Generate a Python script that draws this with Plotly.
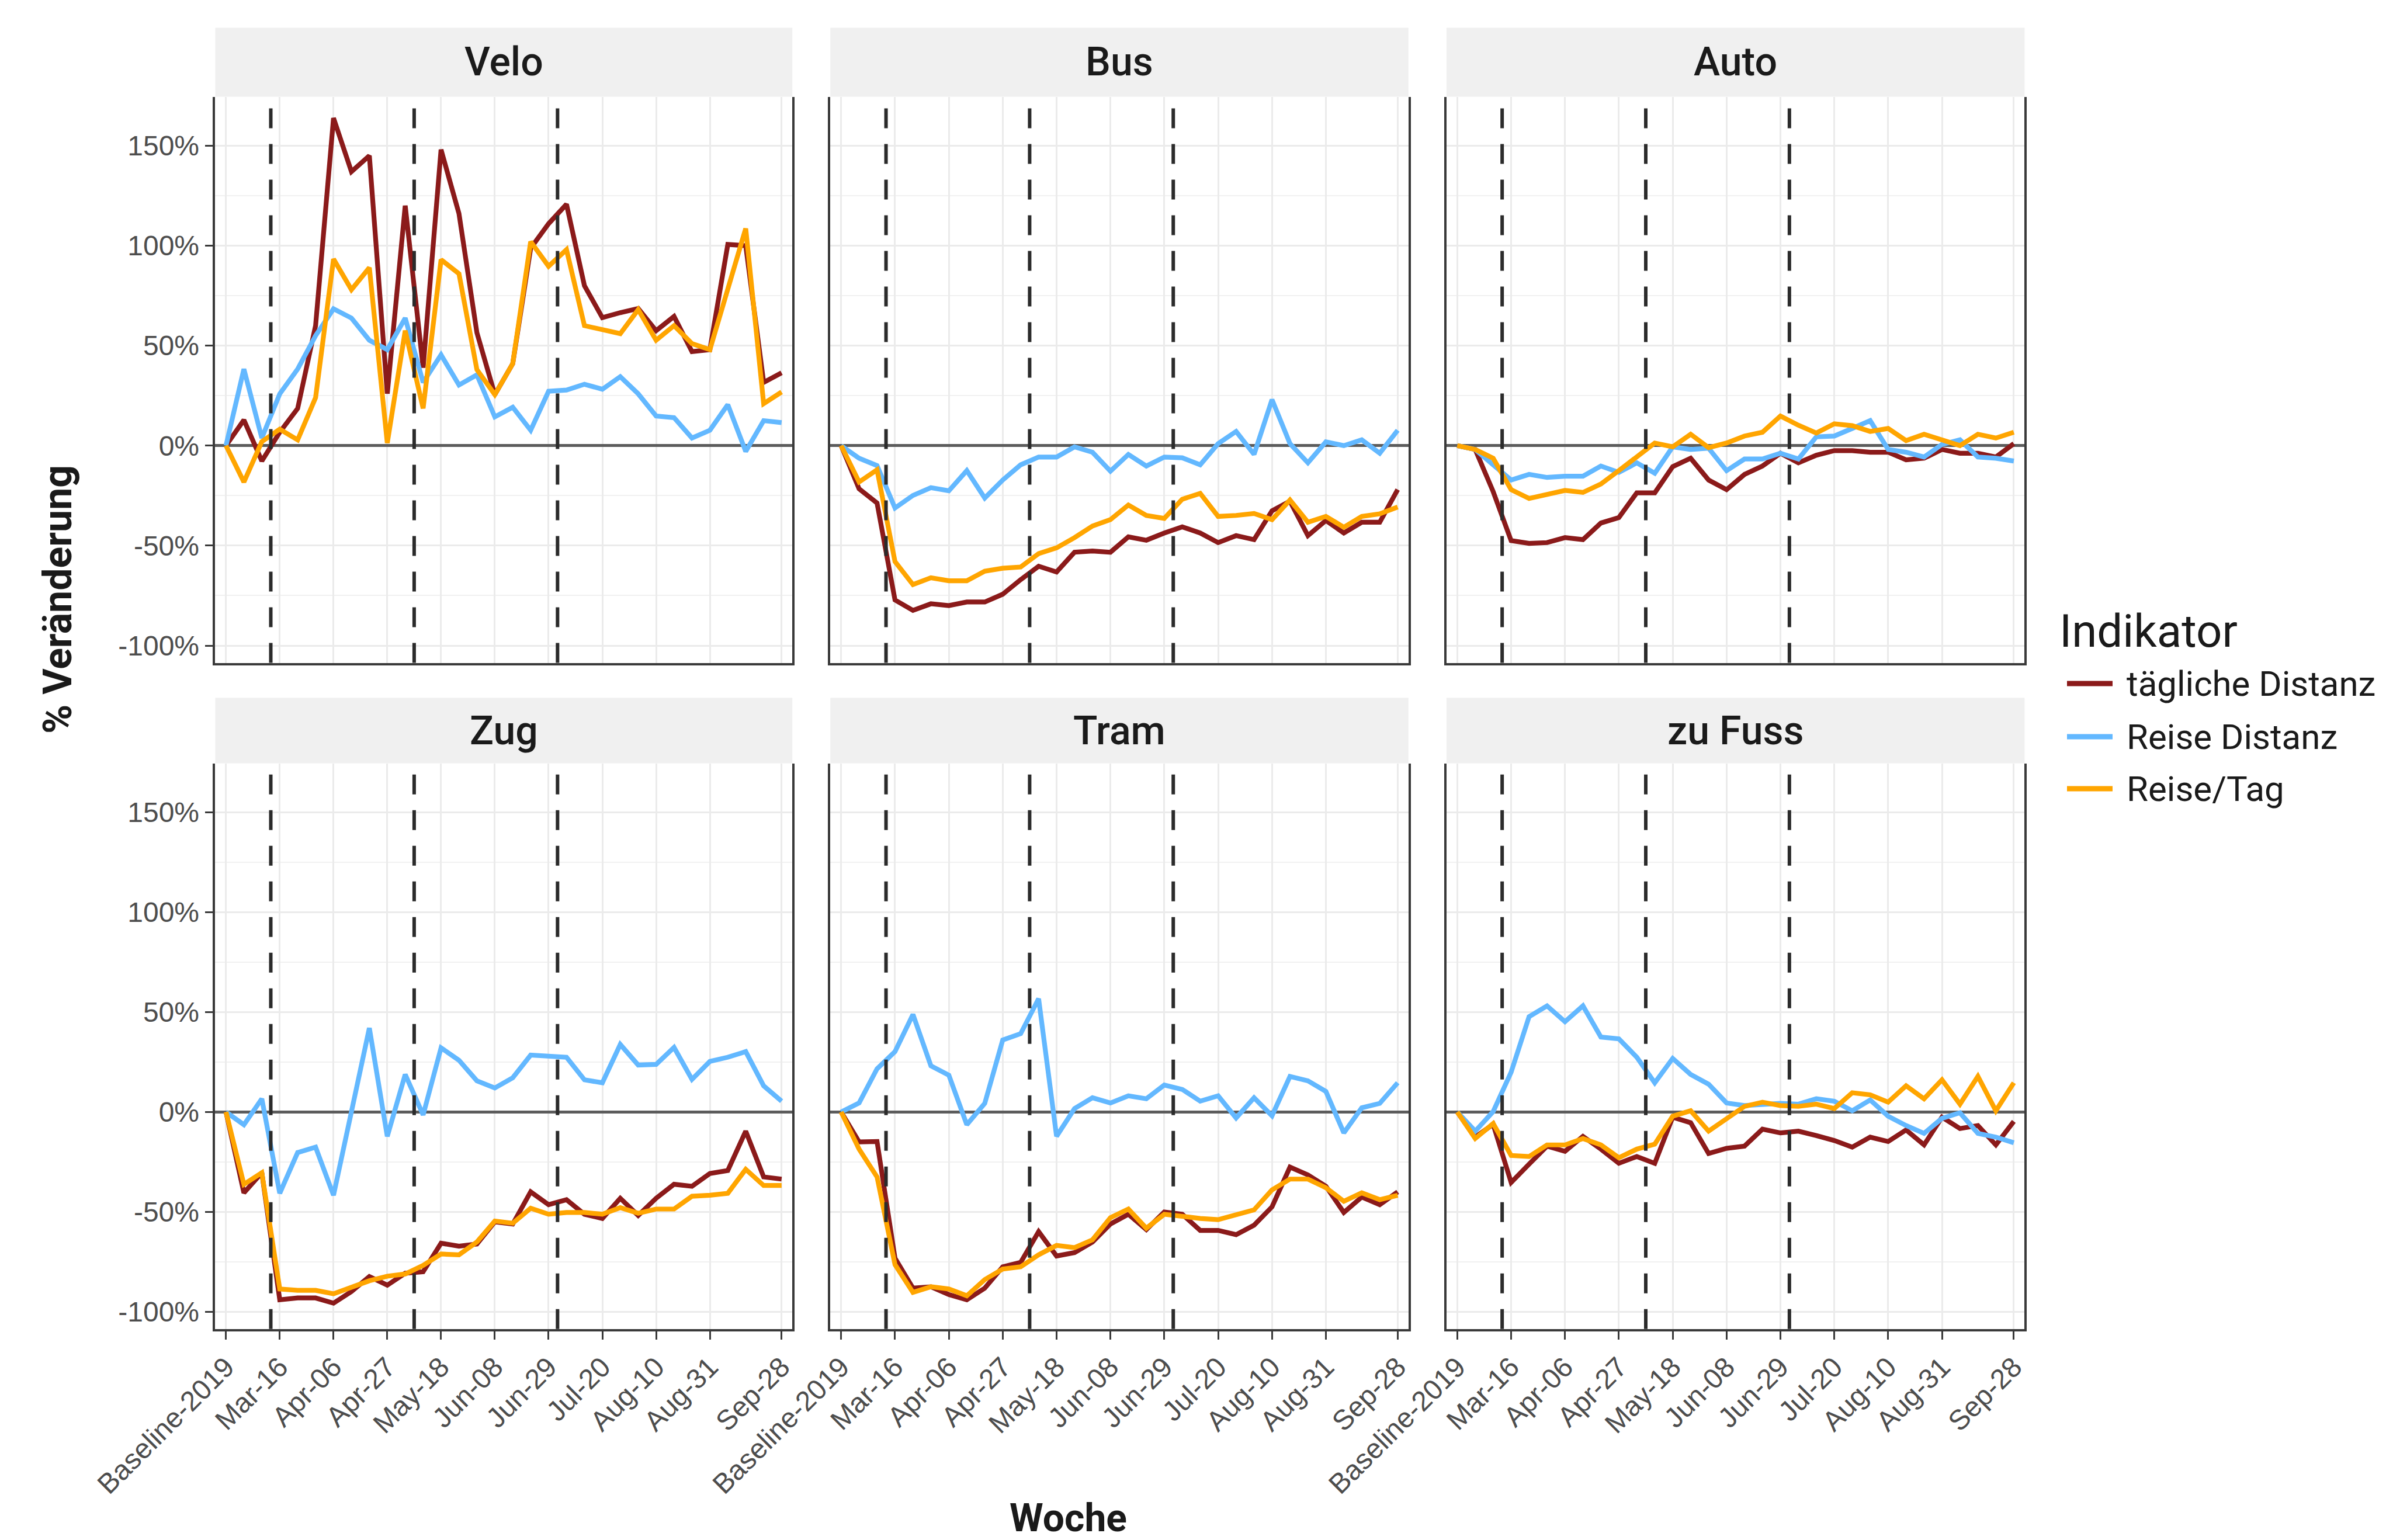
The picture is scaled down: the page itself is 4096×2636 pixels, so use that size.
import plotly.graph_objects as go

# ---------------- data ----------------
WEEKS = ["Baseline-2019", "Mar-02", "Mar-09", "Mar-16", "Mar-23", "Mar-30", "Apr-06",
         "Apr-13", "Apr-20", "Apr-27", "May-04", "May-11", "May-18", "May-25", "Jun-01",
         "Jun-08", "Jun-15", "Jun-22", "Jun-29", "Jul-06", "Jul-13", "Jul-20", "Jul-27",
         "Aug-03", "Aug-10", "Aug-17", "Aug-24", "Aug-31", "Sep-07", "Sep-14", "Sep-21",
         "Sep-28"]
TICK_WEEKS = ["Baseline-2019", "Mar-16", "Apr-06", "Apr-27", "May-18", "Jun-08",
              "Jun-29", "Jul-20", "Aug-10", "Aug-31", "Sep-28"]
Y_TICKS = [-100, -50, 0, 50, 100, 150]
Y_LABELS = ["-100%", "-50%", "0%", "50%", "100%", "150%"]
Y_MINOR = [-75, -25, 25, 75, 125]
MARKERS = [2.5, 10.5, 18.5]   # dashed lines between weeks (before Mar-16, May-11, Jul-06)

MODES = ["Velo", "Bus", "Auto", "Zug", "Tram", "zu Fuss"]
INDICATORS = ["tägliche Distanz", "Reise Distanz", "Reise/Tag"]
COLORS = ["#8B1A1A", "#63B8FF", "#FFA500"]

velo_taeglich = [0, 12.8, -7.7, 6.7, 18.6, 60, 163.8, 137, 145, 26, 120, 39, 148, 116, 56.5, 25.5,
                 41, 98.7, 111, 120.7, 80, 64, 66.5, 68.6, 57.5, 64.6, 47, 48, 100.6, 100, 31.6, 36.4]
velo_reise = [0, 38.3, 3.8, 25.9, 38.3, 55, 68.4, 63.8, 52.7, 48, 63.8, 31.6, 45.4, 30.3, 35.4, 14.4,
              19.2, 7.7, 27.2, 27.8, 30.7, 28.2, 34.5, 25.9, 14.8, 14, 3.8, 7.7, 20.5, -2.9, 12.5, 11.5]
velo_tag = [0, -18.2, 2, 8.2, 2.9, 24, 93.3, 78, 89, 1.3, 57.5, 18.6, 93, 86, 38, 25.5,
            41, 102, 89.7, 98, 60, 58, 56, 68, 52.7, 60, 51, 48, 78.5, 108.6, 21, 26.8]

bus_taeglich = [0, -21.6, -28.7, -77.2, -82.4, -79.1, -80, -78.2, -78.2, -74.3, -67, -60.3, -63.2,
                -53.3, -52.7, -53.3, -45.6, -47.3, -43.7, -40.6, -43.7, -48.5, -45, -47, -32.6,
                -27.8, -45, -37.4, -43.7, -38.3, -38.3, -22]
bus_reise = [0, -6.3, -10, -31.2, -24.9, -21, -22.6, -12.5, -26.2, -17.2, -9.6, -5.7, -5.7, -0.6,
             -3.3, -12.8, -4.4, -10.2, -5.7, -6.1, -9.6, 1, 7.1, -4.4, 23, 1, -8.6, 1.9, 0, 2.9,
             -3.8, 7.7]
bus_tag = [0, -18.2, -12.1, -58, -69.5, -66.1, -67.6, -67.6, -62.8, -61.3, -60.7, -54, -51.1, -46,
           -40.2, -37, -29.7, -34.9, -36.4, -26.8, -23.9, -35.4, -34.9, -33.9, -37, -27.2, -38.3,
           -35.4, -40.8, -35.4, -34.1, -30.7]

auto_taeglich = [0, -1.9, -23, -47.5, -48.9, -48.5, -46, -47, -38.7, -36, -23.6, -23.6, -10.5,
                 -6.3, -17.2, -22, -14.4, -10.2, -3.8, -8.6, -4.8, -2.5, -2.5, -3.3, -3.3, -7.1,
                 -6.3, -1.9, -3.8, -3.8, -5.7, 1]
auto_reise = [0, -1.9, -9.6, -17.2, -14.4, -15.9, -15.3, -15.3, -10.2, -13.4, -8.6, -13.8, -0.6,
              -1.9, -1.3, -12.5, -6.7, -6.7, -3.8, -6.7, 4.4, 4.8, 8.6, 12.5, -1.9, -3.3, -5.7,
              0.6, 2.9, -5.7, -6.3, -7.7]
auto_tag = [0, -1.9, -6.3, -22, -26.4, -24.3, -22.4, -23.4, -19.2, -12.5, -5.4, 1.3, -0.6, 5.7,
            -1, 1.3, 4.8, 6.7, 14.8, 10.2, 6.3, 10.9, 10, 7.1, 8.6, 2.5, 5.7, 2.9, 0, 5.7, 3.8, 6.7]

zug_taeglich = [0, -40.5, -30.4, -94, -93.1, -93.1, -95.7, -89.9, -82.4, -86.7, -80.7, -80, -65.7,
                -67.2, -66.1, -55, -56.1, -40, -46.4, -43.9, -51.2, -53.3, -43.2, -51.8, -43.2,
                -36.2, -37.2, -30.8, -29.3, -9.6, -32.5, -33.6]
zug_reise = [0, -6.4, 6.6, -40.7, -20.3, -17.6, -41.7, -0.4, 42, -12.2, 18.8, -1.5, 32.1, 25.9,
             15.6, 12, 17.1, 28.5, 27.8, 27.4, 16.1, 14.6, 33.8, 23.5, 23.8, 32.3, 16.3, 25.3,
             27.4, 30.2, 13.1, 5.4]
zug_tag = [0, -36.2, -30.4, -88.6, -89.3, -89.3, -91, -87.8, -84.5, -82.2, -81.1, -76.8, -71.1,
           -71.5, -65.1, -54.6, -55.7, -48.2, -51.2, -50.3, -50.3, -51.2, -47.9, -50.7, -48.6,
           -48.6, -42.2, -41.7, -40.7, -28.7, -36.8, -36.8]

tram_taeglich = [0, -15, -14.8, -73.2, -88.2, -87.5, -91.4, -94, -88.2, -77.5, -75.3, -59.9, -72.1,
                 -70.4, -65.1, -56.1, -51.2, -58.9, -50.1, -51.2, -59.3, -59.3, -61.4, -56.7,
                 -47.5, -27.6, -31.5, -37.2, -50.3, -42.6, -46.4, -40]
tram_reise = [0, 4.5, 21.6, 30.2, 48.8, 23.1, 18.4, -6.4, 4.3, 36, 39.2, 56.7, -12.2, 1.7, 7.1,
              4.5, 8.1, 6.6, 13.5, 11.3, 5.4, 8.1, -3, 7.1, -1.9, 17.8, 15.6, 10.3, -10.5, 2.1,
              4.3, 14.6]
tram_tag = [0, -18.6, -32.5, -76.4, -90.3, -87.5, -88.6, -92, -83.9, -78.6, -77.5, -71.5, -66.8,
            -67.9, -64, -52.9, -48.6, -58.2, -51.2, -52.4, -53.3, -53.9, -51.2, -49, -39, -33.6,
            -33.6, -37.9, -44.7, -40.5, -43.9, -41.7]

fuss_taeglich = [0, -12.6, -6.2, -35.3, -26.1, -17.1, -19.7, -12.2, -18.6, -25.7, -22.3, -25.7,
                 -2.6, -5.4, -20.8, -18.2, -17.1, -8.6, -10.5, -9.6, -11.8, -14.3, -17.6, -12.6,
                 -14.8, -9, -16.5, -2.6, -8.3, -6.8, -16.5, -4.7]
fuss_reise = [0, -9.6, 0.2, 19.9, 47.7, 53.1, 45.2, 53.1, 37.5, 36.6, 27.4, 14.6, 26.8, 18.8,
              13.9, 4.5, 3.2, 3.9, 4.3, 3.9, 6.6, 5.4, 0.6, 6, -2.1, -6.8, -10.7, -3.2, -0.4,
              -10.7, -12.6, -15.4]
fuss_tag = [0, -13.3, -5.8, -21.8, -22.3, -16.5, -16.5, -13.3, -16.5, -22.9, -18.6, -16.1, -2.1,
            0.6, -9.6, -3.6, 2.8, 4.9, 3.2, 2.8, 3.9, 1.7, 9.6, 8.6, 4.9, 13.1, 6.6, 16.1, 3.9,
            17.8, 0.6, 14.6]

SERIES = {
    "Velo": [velo_taeglich, velo_reise, velo_tag],
    "Bus": [bus_taeglich, bus_reise, bus_tag],
    "Auto": [auto_taeglich, auto_reise, auto_tag],
    "Zug": [zug_taeglich, zug_reise, zug_tag],
    "Tram": [tram_taeglich, tram_reise, tram_tag],
    "zu Fuss": [fuss_taeglich, fuss_reise, fuss_tag],
}

# ---------------- layout (pixels of the 4096x2636 page) ----------------
W, H = 4096, 2636
COL_X = [(360.4, 1348.2), (1413.3, 2402.8), (2467.9, 3457.4)]
ROW_Y = [(157.5, 1126.5), (1298.6, 2266.7)]      # panel top / bottom
STRIP_TOP = [39.4, 1186.4]

def px(x):
    return x / W

def py(y):
    return 1 - y / H

TICK_FONT = dict(family="Liberation Sans, Arial, sans-serif", size=48, color="#4D4D4D")
TEXT_FONT = "Roboto, Noto Sans, sans-serif"
AXIS_COLOR = "#3a3a3a"

fig = go.Figure()
layout = dict(
    width=W, height=H,
    margin=dict(l=0, r=0, t=0, b=0, autoexpand=False),
    paper_bgcolor="white", plot_bgcolor="white",
    showlegend=False,
)
shapes = []
annotations = []

for k, mode in enumerate(MODES):
    r, c = divmod(k, 3)
    n = k + 1
    xs = "" if n == 1 else str(n)
    for i, ind in enumerate(INDICATORS):
        fig.add_trace(go.Scatter(
            x=WEEKS, y=SERIES[mode][i], mode="lines", name=ind,
            legendgroup=ind, showlegend=False,
            line=dict(color=COLORS[i], width=8.2),
            xaxis="x" + xs, yaxis="y" + xs,
            hovertemplate=mode + " – " + ind + "<br>%{x}: %{y:.1f}%<extra></extra>",
        ))
    bottom = (r == 1)
    left = (c == 0)
    layout["xaxis" + xs] = dict(
        domain=[px(COL_X[c][0]), px(COL_X[c][1])], anchor="y" + xs,
        type="category", categoryorder="array", categoryarray=WEEKS,
        range=[-0.6, len(WEEKS) - 1 + 0.6],
        tickmode="array", tickvals=TICK_WEEKS, ticktext=TICK_WEEKS,
        showticklabels=bottom, ticks="outside" if bottom else "",
        ticklen=14, tickwidth=3.2, tickcolor=AXIS_COLOR, tickangle=-45,
        tickfont=TICK_FONT,
        showgrid=True, gridcolor="#EBEBEB", gridwidth=2.8,
        showline=True, linecolor=AXIS_COLOR, linewidth=3.6,
        zeroline=False, fixedrange=True,
    )
    layout["yaxis" + xs] = dict(
        domain=[py(ROW_Y[r][1]), py(ROW_Y[r][0])], anchor="x" + xs,
        range=[-108.6, 174.5],
        tickmode="array", tickvals=Y_TICKS, ticktext=Y_LABELS,
        showticklabels=left, ticks="outside" if left else "",
        ticklen=14, tickwidth=3.2, tickcolor=AXIS_COLOR, tickfont=TICK_FONT,
        showgrid=True, gridcolor="#EBEBEB", gridwidth=2.8,
        minor=dict(tickvals=Y_MINOR, showgrid=True, gridcolor="#F1F1F1", gridwidth=1.5, ticks=""),
        showline=True, linecolor=AXIS_COLOR, linewidth=3.6, mirror=True,
        zeroline=True, zerolinecolor="#5c5c5c", zerolinewidth=4.5,
        fixedrange=True,
    )
    # dashed marker lines
    for m in MARKERS:
        shapes.append(dict(type="line", xref="x" + xs, yref="y" + xs + " domain",
                           x0=m, x1=m, y0=0, y1=1, layer="above",
                           line=dict(color="#2b2b2b", width=6, dash="34px,27px")))
    # strip
    shapes.append(dict(type="rect", xref="paper", yref="paper",
                       x0=px(COL_X[c][0]), x1=px(COL_X[c][1]),
                       y0=py(ROW_Y[r][0]), y1=py(STRIP_TOP[r]),
                       fillcolor="#F0F0F0", line=dict(width=0), layer="below"))
    annotations.append(dict(text=mode, xref="paper", yref="paper",
                            x=px((COL_X[c][0] + COL_X[c][1]) / 2),
                            y=py((STRIP_TOP[r] + ROW_Y[r][0]) / 2),
                            xanchor="center", yanchor="middle", showarrow=False,
                            font=dict(family=TEXT_FONT, size=68, color="#1A1A1A", weight=500)))

# axis titles
annotations.append(dict(text="<b>Woche</b>", xref="paper", yref="paper",
                        x=px(1820), y=py(2590), xanchor="center", yanchor="middle",
                        showarrow=False, font=dict(family=TEXT_FONT, size=66, color="#1A1A1A")))
annotations.append(dict(text="<b>% Veränderung</b>", xref="paper", yref="paper",
                        x=px(91), y=py(1018), xanchor="center", yanchor="middle",
                        textangle=-90, showarrow=False,
                        font=dict(family=TEXT_FONT, size=68, color="#1A1A1A")))

# legend (drawn manually)
annotations.append(dict(text="Indikator", xref="paper", yref="paper",
                        x=px(3515), y=py(1073), xanchor="left", yanchor="middle",
                        showarrow=False, font=dict(family=TEXT_FONT, size=78, color="#1A1A1A")))
LEG_Y = [1162, 1253, 1342]
for i, ind in enumerate(INDICATORS):
    shapes.append(dict(type="line", xref="paper", yref="paper",
                       x0=px(3530), x1=px(3608), y0=py(LEG_Y[i]), y1=py(LEG_Y[i]),
                       line=dict(color=COLORS[i], width=9)))
    annotations.append(dict(text=ind, xref="paper", yref="paper",
                            x=px(3630), y=py(LEG_Y[i]), xanchor="left", yanchor="middle",
                            showarrow=False,
                            font=dict(family=TEXT_FONT, size=60, color="#1A1A1A")))

layout["shapes"] = shapes
layout["annotations"] = annotations
fig.update_layout(**layout)
fig.write_html("out.html")
